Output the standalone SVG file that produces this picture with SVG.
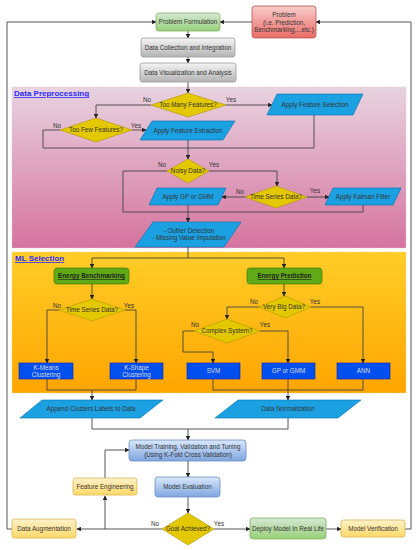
<svg xmlns="http://www.w3.org/2000/svg" width="418" height="550" viewBox="0 0 418 550">
<defs>
<linearGradient id="gGreen" x1="0" y1="0" x2="0" y2="1"><stop offset="0" stop-color="#d5e8d4"/><stop offset="1" stop-color="#97d077"/></linearGradient>
<linearGradient id="gRed" x1="0" y1="0" x2="0" y2="1"><stop offset="0" stop-color="#f8cecc"/><stop offset="1" stop-color="#ea6b66"/></linearGradient>
<linearGradient id="gGrey" x1="0" y1="0" x2="0" y2="1"><stop offset="0" stop-color="#f5f5f5"/><stop offset="1" stop-color="#b3b3b3"/></linearGradient>
<linearGradient id="gPink" x1="0" y1="0" x2="0" y2="1"><stop offset="0" stop-color="#e8d3e0"/><stop offset="1" stop-color="#d5739d"/></linearGradient>
<linearGradient id="gOrange" x1="0" y1="0" x2="0" y2="1"><stop offset="0" stop-color="#ffcd28"/><stop offset="1" stop-color="#ffa500"/></linearGradient>
<linearGradient id="gBlue" x1="0" y1="0" x2="0" y2="1"><stop offset="0" stop-color="#dae8fc"/><stop offset="1" stop-color="#7ea6e0"/></linearGradient>
<linearGradient id="gYellow" x1="0" y1="0" x2="0" y2="1"><stop offset="0" stop-color="#fff2cc"/><stop offset="1" stop-color="#ffd966"/></linearGradient>
<marker id="arr" viewBox="0 0 8 8" refX="7" refY="4" markerWidth="4.5" markerHeight="4.5" orient="auto" markerUnits="userSpaceOnUse">
<path d="M0,0 L8,4 L0,8 Z" fill="#222"/>
</marker>
</defs>
<style>
text{font-family:"Liberation Sans",Arial,sans-serif;font-size:6.3px;fill:#333;text-anchor:middle}
.lbl{text-anchor:middle;fill:#333}
.title{font-size:8px;font-weight:bold;fill:#2a2aff;text-decoration:underline;text-anchor:start}
.en{font-weight:bold;text-decoration:underline;fill:#222}
.wt{fill:#d8d8d8}
.green{fill:url(#gGreen);stroke:#82b366;stroke-width:0.8}
.red{fill:url(#gRed);stroke:#b85450;stroke-width:0.8}
.grey{fill:url(#gGrey);stroke:#999;stroke-width:0.8}
.blue{fill:url(#gBlue);stroke:#6c8ebf;stroke-width:0.8}
.yel{fill:url(#gYellow);stroke:#d6b656;stroke-width:0.8}
.dia{fill:#e3c800;stroke:#b09500;stroke-width:0.6}
.par{fill:#1ba1e2;stroke:#006eaf;stroke-width:0.6}
.cob{fill:#0050ef;stroke:#001dbc;stroke-width:0.6}
.egr{fill:#60a917;stroke:#2d7600;stroke-width:0.6}
.c{fill:none;stroke:#444;stroke-width:0.9}
.ca{fill:none;stroke:#444;stroke-width:0.9;marker-end:url(#arr)}
</style>

<g id="regions">
<rect x="12" y="87" width="394" height="161" fill="url(#gPink)" stroke="#d9c9d4" stroke-width="0.8" stroke-dasharray="1.5,1.5"/>
<rect x="12" y="252" width="394" height="141" fill="url(#gOrange)" stroke="#f0d890" stroke-width="0.8" stroke-dasharray="1.5,1.5"/>
<text class="title" x="14" y="96">Data Preprocessing</text>
<text class="title" x="15" y="261">ML Selection</text>
</g>

<g id="connectors">
<path class="ca" d="M252,22 H220"/>
<path class="ca" d="M405,529 H411 V22 H316"/>
<path class="ca" d="M12,529 H7 V22 H156"/>
<path class="ca" d="M188,31 V38"/>
<path class="ca" d="M188,57 V63"/>
<path class="ca" d="M188,82 V93"/>
<path class="ca" d="M151,105 H96 V118"/>
<path class="ca" d="M226,105 H272"/>
<path class="c" d="M60,130 H43 V148 H314 V115"/>
<path class="ca" d="M132,130 H146"/>
<path class="ca" d="M188,140 V159"/>
<path class="c" d="M167,171 H123 V212 H363 V205"/>
<path class="ca" d="M209,171 H277 V186"/>
<path class="ca" d="M245,197 H222"/>
<path class="ca" d="M307,197 H329"/>
<path class="ca" d="M188,205 V222"/>
<path class="c" d="M188,247 V258 M92,258 H284"/>
<path class="ca" d="M92,258 V268"/>
<path class="ca" d="M284,258 V268"/>
<path class="ca" d="M92,284 V299"/>
<path class="ca" d="M59,310 H47 V363"/>
<path class="ca" d="M125,310 H136 V363"/>
<path class="ca" d="M284,284 V296"/>
<path class="ca" d="M259,307 H227 V319"/>
<path class="ca" d="M311,307 H363 V363"/>
<path class="ca" d="M194,331 H183 V352 H213 V363"/>
<path class="ca" d="M260,331 H288 V363"/>
<path class="c" d="M47,379 V390 H136 V379"/>
<path class="ca" d="M92,390 V400"/>
<path class="c" d="M213,379 V390 H363 V379"/>
<path class="ca" d="M288,379 V400"/>
<path class="c" d="M92,418 V429 H288 V418"/>
<path class="ca" d="M188,429 V440"/>
<path class="ca" d="M188,461 V477"/>
<path class="ca" d="M188,497 V513"/>
<path class="ca" d="M162,529 H77"/>
<path class="ca" d="M105,529 V496"/>
<path class="ca" d="M105,478 V450 H129"/>
<path class="ca" d="M214,529 H250"/>
<path class="ca" d="M326,529 H341"/>
<text x="147" y="102">No</text>
<text x="231" y="102">Yes</text>
<text x="57" y="128">No</text>
<text x="136" y="128">Yes</text>
<text x="162" y="167">No</text>
<text x="214" y="167">Yes</text>
<text x="240" y="194">No</text>
<text x="315" y="193">Yes</text>
<text x="57" y="308">No</text>
<text x="129" y="308">Yes</text>
<text x="254" y="304">No</text>
<text x="315" y="304">Yes</text>
<text x="195" y="327">No</text>
<text x="265" y="327">Yes</text>
<text x="155" y="526">No</text>
<text x="219" y="526">Yes</text>
</g>

<g id="problem-formulation"><rect class="green" x="156" y="13" width="64" height="18" rx="2.5"/><text x="188" y="24.2">Problem Formulation</text></g>
<g id="problem"><rect class="red" x="252" y="6" width="64" height="32" rx="3"/><text x="284" y="17">Problem</text><text x="284" y="24.5">(i.e. Prediction,</text><text x="284" y="32">Benchmarking,...etc.)</text></g>
<g id="data-collection"><rect class="grey" x="141" y="38" width="94" height="19" rx="2.5"/><text x="188" y="49.7">Data Collection and Integration</text></g>
<g id="data-visualization"><rect class="grey" x="140" y="63" width="96" height="19" rx="2.5"/><text x="188" y="74.7">Data Visualization and Analysis</text></g>

<g id="too-many-features"><polygon class="dia" points="188,93 226,105 188,117 151,105"/><text x="188" y="107.2">Too Many Features?</text></g>
<g id="feature-selection"><polygon class="par" points="277,94 363,94 353,115 267,115"/><text x="315" y="106.7">Apply Feature Selection</text></g>
<g id="too-few-features"><polygon class="dia" points="96,118 132,130 96,142 60,130"/><text x="96" y="132.2">Too Few Features?</text></g>
<g id="feature-extraction"><polygon class="par" points="152,121 235,121 223,140 140,140"/><text x="188" y="132.7">Apply Feature Extraction</text></g>
<g id="noisy-data"><polygon class="dia" points="188,159 209,171 188,183 167,171"/><text x="188" y="173.2">Noisy Data?</text></g>
<g id="time-series-1"><polygon class="dia" points="276,186 307,197 276,208 245,197"/><text x="276" y="199.2">Time Series Data?</text></g>
<g id="apply-gp"><polygon class="par" points="157,188 226,188 218,205 149,205"/><text x="188" y="198.7">Apply GP or GMM</text></g>
<g id="kalman"><polygon class="par" points="333,188 401,188 393,205 325,205"/><text x="363" y="198.7">Apply Kalman Filter</text></g>
<g id="outlier"><polygon class="par" points="153,222 241,222 224,247 135,247"/><text x="189" y="233">- Outlier Detection</text><text x="189" y="240.2">- Missing Value Imputation</text></g>

<g id="energy-benchmarking"><rect class="egr" x="54" y="268" width="75" height="16" rx="3"/><text class="en" x="91.5" y="278.2">Energy Benchmarking</text></g>
<g id="energy-prediction"><rect class="egr" x="247" y="268" width="75" height="16" rx="3"/><text class="en" x="284.5" y="278.2">Energy Prediction</text></g>
<g id="time-series-2"><polygon class="dia" points="92,299 125,310 92,321 59,310"/><text x="92" y="312.2">Time Series Data?</text></g>
<g id="very-big-data"><polygon class="dia" points="285,296 311,307 285,318 259,307"/><text x="284" y="309.2">Very Big Data?</text></g>
<g id="complex-system"><polygon class="dia" points="227,319 260,331 227,343 194,331"/><text x="227" y="333.2">Complex System?</text></g>
<g id="k-means"><rect class="cob" x="19" y="363" width="54" height="16"/><text class="wt" x="46" y="369.5">K-Means</text><text class="wt" x="46" y="376.5">Clustering</text></g>
<g id="k-shape"><rect class="cob" x="110" y="363" width="53" height="16"/><text class="wt" x="136.5" y="369.5">K-Shape</text><text class="wt" x="136.5" y="376.5">Clustering</text></g>
<g id="svm"><rect class="cob" x="187" y="363" width="53" height="16"/><text class="wt" x="213.5" y="373.2">SVM</text></g>
<g id="gp-gmm"><rect class="cob" x="262" y="363" width="53" height="16"/><text class="wt" x="288.5" y="373.2">GP or GMM</text></g>
<g id="ann"><rect class="cob" x="337" y="363" width="53" height="16"/><text class="wt" x="363.5" y="373.2">ANN</text></g>

<g id="append-labels"><polygon class="par" points="42,400 163,400 140,418 20,418"/><text x="91" y="411.2">Append Clusters Labels to Data</text></g>
<g id="data-normalization"><polygon class="par" points="238,400 361,400 338,418 215,418"/><text x="288" y="411.2">Data Normalization</text></g>
<g id="model-training"><rect class="blue" x="129" y="440" width="117" height="21" rx="3"/><text x="188" y="449">Model Training, Validation and Tuning</text><text x="188" y="456.5">(Using K-Fold Cross Validation)</text></g>
<g id="feature-engineering"><rect class="yel" x="73" y="478" width="64" height="17" rx="2.5"/><text x="105" y="488.7">Feature Engineering</text></g>
<g id="model-evaluation"><rect class="blue" x="155" y="477" width="65" height="20" rx="3"/><text x="187.5" y="489.2">Model Evaluation</text></g>
<g id="goal-achieved"><polygon class="dia" points="188,513 214,529 188,545 162,529"/><text x="188" y="531.2">Goal Achieved?</text></g>
<g id="data-augmentation"><rect class="yel" x="12" y="519" width="64" height="19" rx="2.5"/><text x="44" y="530.7">Data Augmentation</text></g>
<g id="deploy"><rect class="green" x="250" y="518" width="76" height="21" rx="3"/><text x="288" y="530.7">Deploy Model In Real Life</text></g>
<g id="model-verification"><rect class="yel" x="341" y="520" width="64" height="17" rx="2.5"/><text x="373" y="530.7">Model Verification</text></g>
</svg>
